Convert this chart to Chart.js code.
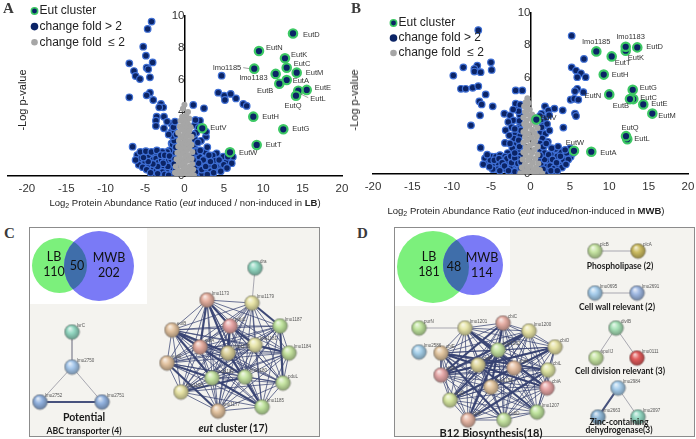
<!DOCTYPE html>
<html>
<head>
<meta charset="utf-8">
<script src="https://cdn.jsdelivr.net/npm/chart.js@4.4.0/dist/chart.umd.min.js"></script>
<style>
  body { margin: 0; width: 696px; height: 439px; background: #fff; position: relative; overflow: hidden;
         font-family: "Liberation Sans", Arial, sans-serif; }
  canvas { position: absolute; }
  .letter { position: absolute; font: bold 15px "Liberation Serif", serif; color: #3a3a3a; }
  .xt { position: absolute; font-size: 9.5px; color: #222; white-space: nowrap; transform: translate(-50%, -50%); }
  .xt sub { font-size: 7px; vertical-align: -2px; }
  .yt { position: absolute; font-size: 11px; color: #222; white-space: nowrap; transform: translate(-50%, -50%) rotate(-90deg); }
  .box { position: absolute; box-sizing: border-box; border: 1px solid #8c8c8c; background: #f4f3ef; }
  .venn { position: absolute; background: #fff; }
  .vt { position: absolute; font: 12.5px Lato, "Noto Sans", sans-serif; color: #111; text-align: center;
        line-height: 15px; transform: translate(-50%, -50%); white-space: nowrap; }
  .grp { position: absolute; font-family: Lato, "Noto Sans", sans-serif; font-weight: bold; color: #1a1a1a;
         white-space: nowrap; transform: translate(-50%, -50%); text-align: center; }
</style>
</head>
<body>

<div class="box" style="left:29px;top:227px;width:291px;height:210px"></div>
<div class="venn" style="left:30px;top:228px;width:117px;height:76px"></div>
<div class="box" style="left:394px;top:227px;width:301px;height:210px"></div>
<div class="venn" style="left:395px;top:228px;width:115px;height:78px"></div>

<canvas id="chartA" width="348" height="200" style="left:0;top:0"></canvas>
<canvas id="chartB" width="348" height="198" style="left:348px;top:0"></canvas>
<canvas id="chartC" width="291" height="210" style="left:29px;top:227px"></canvas>
<canvas id="chartD" width="301" height="210" style="left:394px;top:227px"></canvas>

<div class="letter" style="left:3px;top:0px">A</div>
<div class="letter" style="left:351px;top:0px">B</div>
<div class="letter" style="left:4px;top:225px">C</div>
<div class="letter" style="left:357px;top:225px">D</div>

<div class="yt" style="left:22px;top:100px">-Log p-value</div>
<div class="yt" style="left:354px;top:100px">-Log p-value</div>
<div class="xt" style="left:185px;top:203px">Log<sub>2</sub> Protein Abundance Ratio (<i>eut</i> induced / non-induced in <b>LB</b>)</div>
<div class="xt" style="left:526px;top:211px">Log<sub>2</sub> Protein Abundance Ratio (<i>eut</i> induced/non-induced in <b>MWB</b>)</div>

<div class="vt" style="left:54px;top:264px">LB<br>110</div>
<div class="vt" style="left:77px;top:265px">50</div>
<div class="vt" style="left:109px;top:265px">MWB<br>202</div>
<div class="vt" style="left:429px;top:264px">LB<br>181</div>
<div class="vt" style="left:454px;top:266px">48</div>
<div class="vt" style="left:482px;top:265px">MWB<br>114</div>

<div class="grp" style="left:84px;top:417px;font-size:10.5px">Potential</div>
<div class="grp" style="left:84px;top:430px;font-size:8.7px">ABC transporter (4)</div>
<div class="grp" style="left:233px;top:428px;font-size:10.5px"><i>eut</i> cluster (17)</div>
<div class="grp" style="left:491px;top:432px;font-size:11px">B12 Biosynthesis(18)</div>
<div class="grp" style="left:620px;top:266px;font-size:8.5px">Phospholipase (2)</div>
<div class="grp" style="left:617px;top:307px;font-size:8.5px">Cell wall relevant (2)</div>
<div class="grp" style="left:620px;top:371px;font-size:8.5px">Cell division relevant (3)</div>
<div class="grp" style="left:619px;top:422px;font-size:8.5px">Zinc-containing</div>
<div class="grp" style="left:619px;top:430px;font-size:8.5px">dehydrogenase(3)</div>

<script>
const FONT = "'Liberation Sans', Arial, sans-serif";

// ---------- volcano plots: [log2 ratio, -log p] ----------
const eutNames = ['EutD','EutN','EutK','EutC','EutM','EutA','EutB','EutE','EutL','EutQ',
                  'lmo1185','lmo1183','EutH','EutG','EutV','EutT','EutW'];

const eutLB = [[13.78,8.91],[9.46,7.81],[12.76,7.36],[12.98,6.77],[14.25,6.46],[12.98,6.0],[12.04,5.77],
               [15.52,5.38],[14.45,5.33],[14.16,5.02],[8.86,6.71],[11.58,6.38],[8.74,3.71],[12.55,2.92],
               [2.26,2.98],[9.17,1.94],[5.78,1.48]];

const eutMWB = [[13.56,7.86],[10.0,4.94],[12.09,7.65],[13.05,4.65],[15.47,3.75],[7.72,1.38],[12.63,4.65],
                [14.32,4.32],[12.29,2.16],[12.13,2.35],[8.36,7.61],[12.09,7.9],[9.3,6.17],[12.98,5.23],
                [0.74,3.38],[10.31,7.3],[5.52,1.44]];

const blueLB = [
  [-4.17,9.65],[-4.67,9.19],[-5.23,8.08],[-4.89,7.52],[-7.0,7.04],[-4.04,7.1],[-4.8,6.77],[-4.6,6.67],
  [-6.41,6.56],[-6.2,6.25],[-5.65,6.06],[-4.38,6.17],[-7.0,4.92],[-4.38,5.21],[-4.8,5.04],[-3.96,4.75],
  [-2.98,4.5],[-2.69,4.29],[-3.2,4.29],[-3.53,3.71],[-3.62,3.46],[-2.6,3.71],[-3.62,3.13],[-2.6,2.98],
  [-1.63,3.25],[-1.63,2.77],[-1.42,2.46],[-1.63,2.04],[-6.58,1.83],[-5.99,1.31],[-5.23,1.38],[-4.89,1.04],
  [-4.29,1.21],[-3.83,1.38],[-3.2,1.04],[-2.6,1.21],[-2.26,0.83],[-3.53,0.69],[-4.17,0.79],[-2.9,0.58],
  [-2.05,0.48],[-1.84,0.69],[-1.42,0.9],[-1.63,1.31],[-1.42,1.73],[-1.33,0.38],[-1.84,0.23],[-1.2,0.15],
  [-5.5,1.1],[-5.0,0.9],[-4.6,1.25],[-4.0,1.0],[-3.6,1.1],[-3.3,0.85],[-2.9,1.0],[-2.4,1.05],[-2.0,0.95],
  [-1.7,1.05],[-4.5,0.6],[-3.9,0.5],[-3.2,0.45],[-2.6,0.6],[-2.3,0.3],[-1.6,0.55],[-1.4,1.2],[-1.3,1.5],
  [-1.5,1.95],[-1.3,2.2],[-1.5,2.5],[-1.3,2.8],[-1.4,3.05],[-2.0,2.6],[-2.2,3.4],[-1.2,3.4],[-1.9,1.6],
  [-2.2,1.5],[-2.8,1.5],[-1.1,0.6],[-1.0,1.0],[-1.1,1.8],[-1.0,2.6],[-2.8,0.25],[-3.6,0.3],[-1.5,0.1],
  [-5.8,0.7],[-5.3,0.55],[-4.8,0.4],[-4.3,0.2],[-3.4,0.15],[-2.5,0.1],[-2.0,0.05],[-6.2,1.0],[-5.6,1.5],
  [-4.9,1.55],[-4.2,1.5],[-3.5,1.6],[-3.0,1.3],[-2.5,1.3],[-1.9,1.25],[-1.2,1.05],[-1.1,0.35],[-1.3,0.75],
  [-2.1,0.6],[-2.7,0.8],[-3.4,0.6],[-4.0,0.75],[-4.6,0.9],[-5.2,1.15],
  [4.72,6.27],[4.29,5.21],[5.05,5.02],[5.87,5.13],[6.54,4.85],[5.14,4.75],[7.47,4.5],[7.9,4.38],
  [1.12,4.44],[2.48,4.23],[1.97,3.46],[1.33,3.19],[2.73,2.46],[1.8,3.0],[1.5,2.7],[2.1,2.2],[1.3,2.3],
  [1.2,1.9],[1.6,1.6],[1.1,1.3],[1.4,1.0],[1.9,1.2],[1.2,0.7],[1.6,0.4],[1.1,0.2],[2.0,0.6],[2.4,0.9],
  [2.8,1.1],[3.0,0.7],[3.45,1.21],[4.09,1.42],[4.93,1.21],[5.78,1.0],[2.39,1.0],[1.97,0.58],[3.02,0.69],
  [4.51,0.79],[5.36,0.9],[6.14,1.19],[3.6,1.29],[3.9,0.95],[4.2,0.55],[2.6,0.35],[3.3,0.3],[2.2,0.15],
  [1.4,0.05],[3.8,0.6],[4.8,0.55],[2.6,1.5],[2.9,1.8],[2.75,2.76],
  [1.3,0.5],[1.8,0.8],[2.2,0.4],[2.7,0.6],[3.3,0.9],[3.7,0.2],[4.4,1.0],[5.0,0.7],[5.5,1.2],[6.0,0.8],
  [1.5,1.5],[2.0,1.6],[1.1,1.0],[1.4,0.25],[2.9,0.1],[4.6,0.3],[5.4,0.5],[3.1,1.3],[1.7,2.1],[1.1,2.6],
  [1.4,3.5]
];

const grayLB = [
  [0.0,4.45],[-0.2,4.2],[0.45,4.0],[0.2,3.8],[-0.3,3.7],[0.6,3.6],[-0.5,3.45],[0.3,3.4],[0.0,3.5],
  [-0.1,3.2],[0.5,3.2],[-0.6,3.1],[0.8,3.05],[0.2,3.0],[-0.4,2.9],[0.6,2.8],[-0.8,2.7],[0.0,2.7],
  [0.4,2.55],[-0.5,2.5],[0.9,2.45],[-0.2,2.4],[0.2,2.3],[-0.7,2.2],[0.6,2.15],[0.0,2.1],[-0.4,2.0],
  [0.9,1.95],[0.3,1.9],[-0.8,1.85],[-0.1,1.75],[0.6,1.7],[-0.5,1.6],[0.2,1.55],[1.0,1.5],[-0.9,1.45],
  [-0.2,1.4],[0.5,1.3],[-0.6,1.25],[0.1,1.2],[0.9,1.1],[-1.0,1.05],[-0.3,1.0],[0.4,0.95],[-0.7,0.85],
  [0.0,0.8],[1.0,0.75],[0.7,0.6],[-0.4,0.65],[-1.1,0.6],[0.3,0.55],[-0.1,0.45],[1.1,0.4],[-0.8,0.35],
  [0.6,0.3],[-0.4,0.25],[0.1,0.2],[-1.2,0.2],[0.9,0.15],[-0.6,0.1],[0.3,0.08],[-0.1,0.05],[1.2,0.05],
  [-0.9,0.05],[0.6,0.02],[-0.3,0.02]
];

const blueMWB = [
  [-6.63,8.93],[-9.8,6.11],[-8.53,6.62],[-6.76,6.73],[-7.13,6.52],[-7.13,6.36],[-6.33,6.32],[-5.02,6.93],
  [-4.93,6.46],[-8.83,5.29],[-8.23,5.29],[-7.34,5.35],[-6.63,5.45],[-5.69,4.94],[-6.5,4.51],[-6.2,4.32],
  [-4.8,4.2],[-6.41,3.64],[-7.56,3.02],[-6.33,1.63],[-1.88,5.19],[-1.04,5.19],[-1.88,4.36],[-3.32,3.74],
  [-2.6,3.64],[-2.18,3.33],[-3.15,2.72],[-3.24,1.93],[-1.88,2.51],[-2.82,3.23],[-1.75,1.89],[-1.33,3.64],
  [-1.75,4.0],[-1.3,4.3],[-1.5,3.9],[-2.2,4.0],[-1.3,3.1],[-1.6,2.8],[-2.4,2.9],[-1.3,2.4],[-2.1,2.2],
  [-1.5,2.1],[-2.7,2.4],[-1.3,1.7],[-2.3,1.6],[-1.6,1.4],[-2.9,1.3],[-1.3,1.15],
  [-5.78,0.97],[-4.93,1.07],[-4.38,1.07],[-3.87,1.17],[-5.36,0.66],[-3.45,0.86],[-2.82,0.66],[-2.18,0.45],
  [-2.6,0.35],[-1.75,0.25],[-4.63,0.56],[-4.08,0.66],[-3.24,1.07],[-5.1,0.85],[-3.0,0.95],[-2.3,0.9],
  [-1.9,0.7],[-1.4,0.5],[-3.7,0.4],[-3.1,0.3],[-2.0,0.15],[-1.3,0.1],[-4.2,0.3],[-1.6,0.95],[-2.5,1.1],
  [-6.0,0.6],[-5.5,1.2],[-4.6,0.85],[-4.0,0.95],[-3.6,0.7],[-3.3,0.5],[-2.8,0.2],[-2.4,0.7],[-2.0,1.0],
  [-1.6,0.65],[-1.2,0.35],[-4.8,0.3],[-5.2,0.45],[-3.9,0.2],[-1.2,0.75],[-1.4,1.7],[-1.2,2.7],[-1.4,3.3],
  [-2.0,2.8],[-2.6,1.9],[-2.0,1.3],
  [5.23,8.58],[6.79,7.14],[5.23,6.62],[5.78,6.42],[6.41,6.25],[5.94,6.01],[7.0,6.01],[5.94,5.29],
  [5.65,5.14],[6.71,5.08],[5.1,4.61],[5.56,4.67],[6.07,4.61],[4.09,3.95],[3.04,4.06],[4.17,2.88],
  [5.65,3.75],[5.78,3.6],[1.84,4.2],[2.26,3.95],[1.42,3.75],[1.84,3.46],[2.37,3.65],[1.3,3.3],[1.6,3.0],
  [2.1,3.1],[1.3,2.6],[1.9,2.5],[1.5,2.2],[2.4,2.7],[1.2,1.9],[1.7,1.7],[2.2,2.0],[1.3,1.4],[1.6,1.1],
  [1.2,0.8],[1.5,0.5],[1.2,0.2],[2.9,1.48],[3.75,1.38],[4.17,1.07],[5.02,1.59],[3.11,0.86],[2.26,0.86],
  [2.05,0.45],[4.23,0.86],[5.1,1.07],[1.63,1.69],[2.6,1.2],[3.4,1.1],[4.6,1.3],[2.5,0.5],[3.0,0.35],
  [3.6,0.55],[2.0,0.15],[4.0,0.4],[1.8,1.3],[3.2,1.55],
  [1.3,0.6],[1.8,0.9],[2.3,1.2],[2.8,0.9],[3.3,0.7],[3.8,1.1],[4.4,1.5],[4.8,0.9],[5.4,1.3],[1.6,0.3],
  [2.6,0.2],[3.4,0.2],[4.5,0.6],[1.2,1.15],[2.0,1.9],[1.4,2.9],[1.2,3.6],[2.7,1.6],[3.5,1.7]
];

const grayMWB = [
  [-0.4,4.7],[-0.6,4.45],[-0.2,4.4],[-0.8,4.2],[-0.4,4.1],[-0.1,4.0],[-0.7,3.85],[0.2,3.7],[-0.4,3.7],
  [0.5,3.55],[-0.9,3.5],[0.0,3.45],[0.8,3.4],[-0.5,3.3],[0.3,3.2],[-0.8,3.1],[0.6,3.05],[-0.2,3.0],
  [0.9,2.85],[-0.6,2.8],[0.2,2.75],[-0.9,2.6],[0.5,2.55],[-0.3,2.5],[0.8,2.35],[-0.7,2.3],[0.1,2.25],
  [-0.4,2.1],[0.6,2.05],[-0.9,1.95],[0.3,1.9],[-0.1,1.75],[0.9,1.7],[-0.6,1.65],[0.5,1.5],[-0.3,1.45],
  [-0.9,1.35],[0.2,1.3],[0.9,1.2],[-0.6,1.15],[0.0,1.05],[0.6,0.95],[-1.0,0.9],[-0.3,0.85],[0.3,0.7],
  [1.0,0.65],[-0.7,0.6],[0.0,0.5],[-1.1,0.4],[0.7,0.4],[-0.4,0.35],[1.2,0.25],[0.3,0.2],[-0.8,0.15],
  [-0.1,0.1],[0.8,0.08],[-1.3,0.05],[0.4,0.03],[-0.5,0.02],[1.5,0.03]
];

const xTicks = [-20, -15, -10, -5, 0, 5, 10, 15, 20];
const yTicks = [0, 2, 4, 6, 8, 10];

// label placement next to each Eut point: [dx, dy, align, leader]
const eutLabelsLB = [[10,1,'left'],[7,-3,'left'],[6,-3,'left'],[7,-4,'left'],[9,0,'left'],[6,1,'left'],
  [-6,7,'right'],[8,-2,'left'],[12,8,'left',[2,3,10,7]],[-3,10,'center'],[-13,-1,'right',[-11,-1,-5,0]],
  [-8,4,'right'],[9,0,'left'],[9,0,'left'],[8,0,'left'],[9,0,'left'],[9,1,'left']];
const eutLabelsMWB = [[9,0,'left'],[-8,2,'right'],[2,7,'left'],[7,-1,'left'],[6,2,'left'],[9,1,'left'],
  [-1,7,'right'],[8,0,'left'],[7,0,'left'],[4,-8,'center'],[0,-9,'center'],[5,-10,'center'],
  [8,0,'left'],[7,-2,'left'],[4,-2,'left'],[3,7,'left'],[1,-8,'center']];

const toXY = arr => arr.map(p => ({x: p[0], y: p[1]}));

const pointLabels = {
  id: 'pointLabels',
  afterDatasetsDraw(chart, args, opts) {
    const meta = chart.getDatasetMeta(0);
    const ctx = chart.ctx;
    ctx.save();
    ctx.font = '7.5px ' + FONT;
    ctx.fillStyle = '#333';
    ctx.strokeStyle = '#777';
    ctx.lineWidth = 0.7;
    ctx.textBaseline = 'middle';
    meta.data.forEach((pt, i) => {
      const o = opts.offsets[i];
      ctx.textAlign = o[2];
      ctx.fillText(opts.names[i], pt.x + o[0], pt.y + o[1]);
      if (o[3]) {
        ctx.beginPath();
        ctx.moveTo(pt.x + o[3][0], pt.y + o[3][1]);
        ctx.lineTo(pt.x + o[3][2], pt.y + o[3][3]);
        ctx.stroke();
      }
    });
    ctx.restore();
  }
};

const sideLegend = {
  id: 'sideLegend',
  afterDraw(chart, args, opts) {
    const ctx = chart.ctx;
    ctx.save();
    ctx.font = '12px ' + FONT;
    ctx.textBaseline = 'middle';
    ctx.textAlign = 'left';
    chart.data.datasets.forEach((ds, i) => {
      const y = opts.y + i * opts.dy;
      ctx.beginPath();
      ctx.arc(opts.x, y, opts.r[i], 0, Math.PI * 2);
      ctx.fillStyle = ds.backgroundColor;
      ctx.fill();
      if (i === 0) { ctx.lineWidth = 1.5; ctx.strokeStyle = ds.borderColor; ctx.stroke(); }
      ctx.fillStyle = '#222';
      ctx.fillText(ds.label, opts.x + 5, y);
    });
    ctx.restore();
  }
};

function volcano(id, eut, blue, gray, labels, xMin, pad, legendPos) {
  return new Chart(document.getElementById(id), {
    type: 'scatter',
    data: {
      datasets: [
        { label: 'Eut cluster', data: toXY(eut), backgroundColor: '#0b2466', borderColor: '#3cc864',
          borderWidth: 2.2, pointRadius: 4.2, order: 0 },
        { label: 'change fold > 2', data: toXY(blue), backgroundColor: '#0b2466', borderColor: '#3f6fd4',
          borderWidth: 1.2, pointRadius: 3.3, order: 2 },
        { label: 'change fold  \u2264 2', data: toXY(gray), backgroundColor: '#a6a6a6', borderColor: '#a6a6a6',
          borderWidth: 0, pointRadius: 3, order: 1 }
      ]
    },
    options: {
      responsive: false,
      animation: false,
      events: [],
      layout: { padding: pad, autoPadding: false },
      plugins: {
        legend: { display: false },
        tooltip: { enabled: false },
        pointLabels: { names: eutNames, offsets: labels },
        sideLegend: legendPos
      },
      scales: {
        x: {
          type: 'linear', min: xMin, max: 20,
          afterBuildTicks: s => { s.ticks = xTicks.map(v => ({value: v})); },
          afterFit: s => { s.height = 24; s.paddingLeft = 0; s.paddingRight = 0; },
          grid: { display: false, drawTicks: false },
          border: { color: '#000', width: 1.5 },
          ticks: { color: '#333', padding: 6, font: { family: FONT, size: 11.5 } }
        },
        y: {
          type: 'linear', min: 0, max: 10, position: { x: 0 },
          afterBuildTicks: s => { s.ticks = yTicks.map(v => ({value: v})); },
          grid: { display: false, drawTicks: false },
          border: { color: '#000', width: 1.5 },
          ticks: { color: '#333', padding: 6, font: { family: FONT, size: 11.5 } }
        }
      }
    },
    plugins: [pointLabels, sideLegend]
  });
}

volcano('chartA', eutLB, blueLB, grayLB, eutLabelsLB, -22.4,
        { top: 16, left: 8, right: 6, bottom: 0 }, { x: 34.5, y: 11, dy: 15.6, r: [3.2, 3.8, 3.3] });
volcano('chartB', eutMWB, blueMWB, grayMWB, eutLabelsMWB, -20,
        { top: 12, left: 25, right: 8, bottom: 0 }, { x: 45.5, y: 23, dy: 15, r: [3.2, 3.8, 3.3] });

// ---------- Venn counts + STRING networks (positions in panel pixels) ----------
const vennC = [[30.5, 38.5], [70, 39]];
const vennRC = [27.5, 35];
const vennD = [[39, 40], [79, 38]];
const vennRD = [36, 30];

const nodesC = [
  ['lsrC',43,105],['lmo2750',43,140],['lmo2752',11,175],['lmo2751',73,175],
  ['dra',226,41],['lmo1173',178,73],['lmo1179',223,76],['eutB',143,103],['pduC',201,99],['lmo1187',251,99],
  ['eutA',171,120],['lmo1181',226,118],['lmo1176',199,126],['lmo1184',260,126],['eutE',138,136],
  ['lmo1182',183,151],['lmo1180',216,150],['pduL',254,156],['lmo1190',152,165],['lmo1177',189,184],
  ['lmo1185',233,180]
];
const colorsC = ['#93d8c2','#a6c8ec','#93b3e0','#93b3e0',
  '#93d8c2','#e6b0a0','#e8e4a6','#e3c3a0','#e8a6a6','#c0e49e',
  '#e6ada0','#e8e6aa','#dcd29c','#c4e29e','#e3c3a0',
  '#c6e4a2','#c6e4a2','#c6e4a2','#e6e2a4','#e3c3a0','#c0e49e'];
const eutCore = ['lmo1173','lmo1179','eutB','pduC','lmo1187','eutA','lmo1181','lmo1176','lmo1184','eutE',
                 'lmo1182','lmo1180','pduL','lmo1190','lmo1177','lmo1185'];
const thinGrayC = [['lsrC','lmo2750'],['lmo2750','lmo2752'],['lmo2750','lmo2751'],['dra','lmo1179']];
const strongC = [['lmo2752','lmo2751'],['lmo1173','eutA'],['lmo1173','lmo1176'],['eutB','eutA'],['eutB','lmo1182'],
  ['pduC','lmo1181'],['pduC','lmo1176'],['lmo1179','lmo1187'],['eutA','lmo1180'],['eutE','lmo1182'],
  ['eutE','lmo1177'],['lmo1176','lmo1185'],['lmo1181','lmo1184'],['lmo1182','lmo1185'],['lmo1190','lmo1180'],
  ['lmo1187','pduL'],['lmo1173','pduC'],['eutB','lmo1176']];

const nodesD = [
  ['purN',25,101],['lmo1201',71,101],['cbiC',109,96],['lmo1200',135,104],['lmo2586',25,125],['cbiE',47,126],
  ['lmo1202',104,123],['cbiO',161,120],['cbiF',84,138],['cbiH',120,141],['cbiL',154,143],['cbiG',47,148],
  ['lmo1195',97,160],['cbiA',153,161],['cbiD',56,173],['lmo1207',143,185],['cbiP',74,193],['cobD',110,193],
  ['plcB',201,24],['plcA',244,24],['lmo0695',201,66],['lmo2691',243,66],
  ['divIB',222,101],['spoIIJ',202,131],['lmo0111',243,131],
  ['lmo2984',224,161],['lmo2663',204,190],['lmo2097',244,190]
];
const colorsD = ['#c0e49e','#e8e6aa','#e6aea4','#e8e4a6','#a6d0ea','#e3c6a0',
  '#c6e4a2','#e6e2a4','#e0d89e','#e6c0a4','#dfe6a4','#e6a8a8',
  '#e3c6a0','#e8a6a6','#d6e6a0','#c0e49e','#e6b6a4','#c6e4a2',
  '#c6e4a2','#cdbd62','#a6cdec','#9fb8e2',
  '#a8e2b8','#c6e4a2','#e25c5c',
  '#a6cdec','#8fb8d8','#93d8c2'];
const b12Core = ['lmo1201','cbiC','lmo1200','cbiE','lmo1202','cbiO','cbiF','cbiH','cbiL','cbiG',
                 'lmo1195','cbiA','cbiD','lmo1207','cbiP','cobD'];
const thinGrayD = [['purN','lmo1201'],['plcB','plcA'],['lmo0695','lmo2691'],['divIB','spoIIJ'],['divIB','lmo0111'],
                   ['lmo2984','lmo2097']];
const strongD = [['lmo2984','lmo2663'],['lmo1201','cbiH'],['cbiC','cbiG'],['lmo1200','cbiF'],['cbiE','cbiA'],
  ['lmo1202','cbiD'],['cbiO','cbiG'],['cbiF','lmo1207'],['cbiH','cbiD'],['cbiL','cbiP'],['cbiG','lmo1200'],
  ['lmo1195','cbiC'],['cbiA','cbiE'],['cbiD','cbiO'],['cbiP','lmo1202'],['cobD','cbiE'],['lmo1201','cbiA'],
  ['cbiE','cbiL']];

function pairs(names) {
  const out = [];
  names.forEach((a, i) => names.slice(i + 1).forEach(b => out.push([a, b])));
  return out;
}

function shade(hex, f) {
  const n = parseInt(hex.slice(1), 16);
  const c = [(n >> 16) & 255, (n >> 8) & 255, n & 255].map(v => Math.round(f < 0 ? v * (1 + f) : v + (255 - v) * f));
  return 'rgb(' + c.join(',') + ')';
}

function sphere(color, r) {
  const c = document.createElement('canvas');
  const s = Math.ceil(r * 2 + 2);
  c.width = c.height = s;
  const g = c.getContext('2d');
  const m = s / 2;
  const grad = g.createRadialGradient(m - r * 0.3, m - r * 0.5, r * 0.05, m, m, r);
  grad.addColorStop(0, shade(color, 0.75));
  grad.addColorStop(0.45, color);
  grad.addColorStop(1, shade(color, -0.3));
  g.fillStyle = grad;
  g.beginPath();
  g.arc(m, m, r, 0, Math.PI * 2);
  g.fill();
  g.strokeStyle = 'rgba(90,90,90,0.55)';
  g.lineWidth = 0.6;
  g.stroke();
  return c;
}

const vennOverlap = {
  id: 'vennOverlap',
  afterDatasetDraw(chart, args) {
    if (args.index !== 0) return;
    const [a, b] = args.meta.data;
    const ctx = chart.ctx;
    ctx.save();
    ctx.beginPath();
    ctx.arc(a.x, a.y, a.options.radius, 0, Math.PI * 2);
    ctx.clip();
    ctx.beginPath();
    ctx.arc(b.x, b.y, b.options.radius, 0, Math.PI * 2);
    ctx.fillStyle = '#3f6eaa';
    ctx.fill();
    ctx.restore();
  }
};

const nodeNames = {
  id: 'nodeNames',
  afterDatasetsDraw(chart) {
    const last = chart.data.datasets.length - 1;
    const meta = chart.getDatasetMeta(last);
    const names = chart.data.datasets[last].names;
    const ctx = chart.ctx;
    ctx.save();
    ctx.font = '4.5px ' + FONT;
    ctx.fillStyle = '#555';
    ctx.textAlign = 'left';
    ctx.textBaseline = 'bottom';
    meta.data.forEach((pt, i) => ctx.fillText(names[i], pt.x + 5, pt.y - 4));
    ctx.restore();
  }
};

function network(id, w, h, venn, vennR, nodes, colors, thinGray, mesh, strong) {
  const pos = Object.fromEntries(nodes.map(n => [n[0], {x: n[1], y: n[2]}]));
  const edgePts = list => list.flatMap(([a, b]) => [pos[a], pos[b], {x: null, y: null}]);
  const edge = (list, color, width) => ({
    type: 'line', data: edgePts(list), borderColor: color, borderWidth: width,
    pointRadius: 0, spanGaps: false, clip: false, order: 5
  });
  return new Chart(document.getElementById(id), {
    type: 'scatter',
    data: {
      datasets: [
        { data: toXY(venn), pointRadius: vennR, backgroundColor: ['#7cf07c', '#7a7af6'], borderWidth: 0,
          clip: false, order: 10 },
        edge(thinGray, 'rgba(160,160,170,0.9)', 1),
        edge(mesh, 'rgba(52,64,112,0.72)', 1),
        edge(strong, 'rgba(52,64,112,0.9)', 2.2),
        { data: nodes.map(n => ({x: n[1], y: n[2]})), names: nodes.map(n => n[0]),
          pointStyle: colors.map(c => sphere(c, 7.5)), pointRadius: 7.5, clip: false, order: 0 }
      ]
    },
    options: {
      responsive: false,
      animation: false,
      events: [],
      layout: { padding: 0, autoPadding: false },
      plugins: { legend: { display: false }, tooltip: { enabled: false } },
      scales: {
        x: { type: 'linear', min: 0, max: w, display: false },
        y: { type: 'linear', min: 0, max: h, reverse: true, display: false }
      }
    },
    plugins: [vennOverlap, nodeNames]
  });
}

network('chartC', 291, 210, vennC, vennRC, nodesC, colorsC, thinGrayC, pairs(eutCore), strongC);
network('chartD', 301, 210, vennD, vennRD, nodesD, colorsD, thinGrayD, pairs(b12Core), strongD);
</script>
</body>
</html>
